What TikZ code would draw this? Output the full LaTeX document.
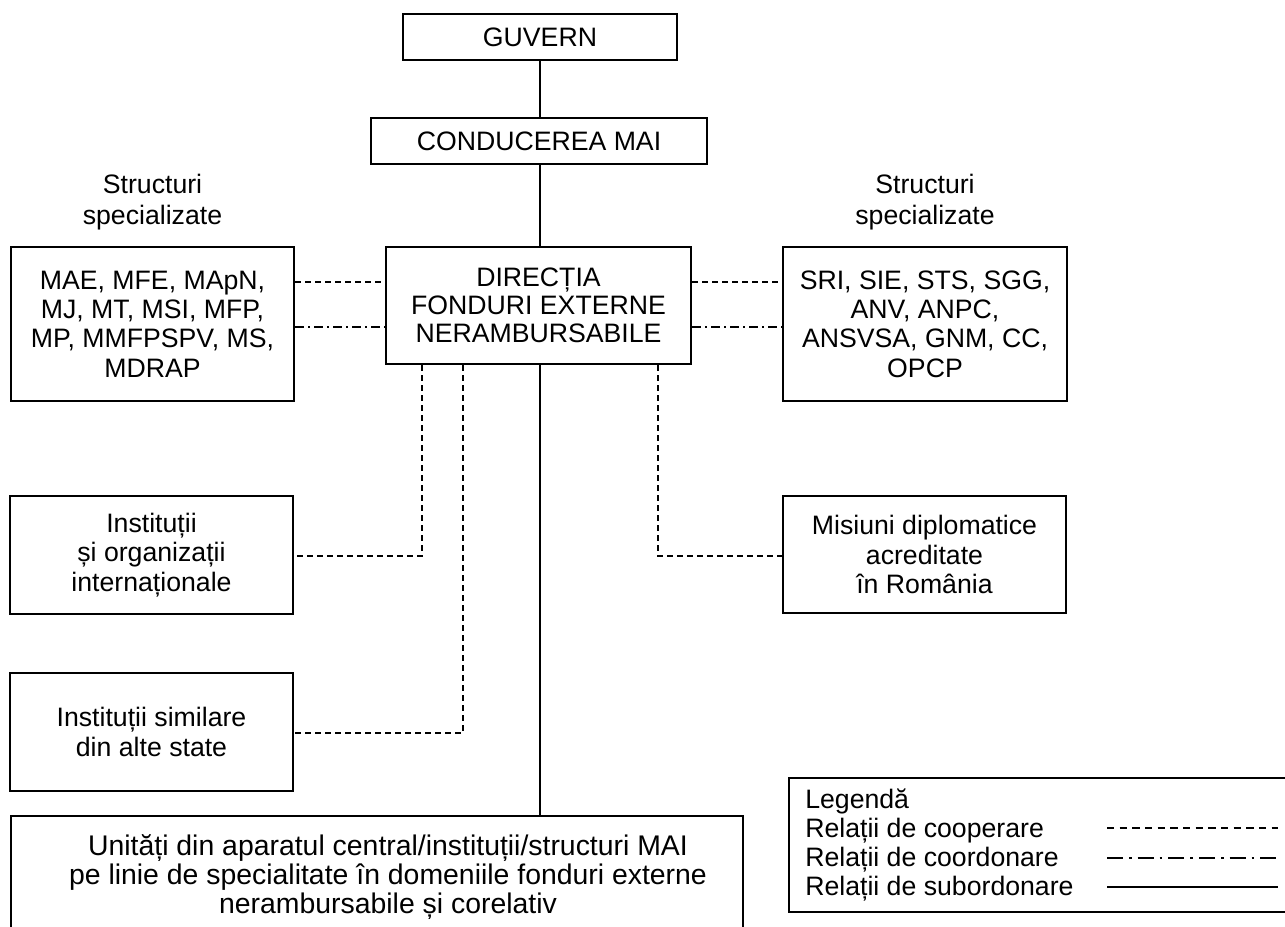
\documentclass[tikz,border=0pt]{standalone}
\usepackage{fontspec}
\setmainfont{Liberation Sans}
\newcommand\dfont{\fontsize{20}{22}\selectfont}
\tikzset{
  bx/.style 2 args={draw, line width=1.6pt, minimum width=#1*0.75pt, minimum height=#2*0.75pt, inner sep=0pt, align=center, font=\dfont},
  lbl/.style={inner sep=0pt, align=center, font=\dfont},
  headlbl/.style={inner sep=0pt, align=center, font={\fontsize{20}{23.5}\selectfont}},
  legtxt/.style={inner sep=0pt, anchor=base west, font=\dfont},
  sub/.style={line width=1.1pt},
  coop/.style={line width=1.1pt, dash pattern=on 4.5pt off 3pt},
  coordl/.style={line width=1.1pt, dash pattern=on 6.75pt off 3pt on 1.5pt off 3pt},
  legsub/.style={line width=1.6pt},
  legcoop/.style={line width=1.6pt, dash pattern=on 5.5pt off 4pt},
  legcoord/.style={line width=1.6pt, dash pattern=on 12pt off 4.5pt on 2pt off 4.5pt}
}
\begin{document}
\begin{tikzpicture}[x=0.75pt,y=-0.75pt]
\clip (0,0) rectangle (1285,926);
% boxes
\node[bx={274}{46}] (guv) at (540,37) {GUVERN};
\node[bx={336}{46}] (cond) at (539,141) {CONDUCEREA MAI};
\node[bx={305}{117}, font={\fontsize{20}{21}\selectfont}] (dir) at (538.5,305.5) {DIRECȚIA\\FONDURI EXTERNE\\NERAMBURSABILE};
\node[bx={283}{154}] (lbox) at (152.5,324) {MAE, MFE, MApN,\\MJ, MT, MSI, MFP,\\MP, MMFPSPV, MS,\\MDRAP};
\node[bx={284}{154}] (rbox) at (925,324) {SRI, SIE, STS, SGG,\\ANV, ANPC,\\ANSVSA, GNM, CC,\\OPCP};
\node[headlbl] (lhead) at (152.5,202) {Structuri\\specializate};
\node[headlbl] (rhead) at (925,202) {Structuri\\specializate};
\node[bx={283}{118}] (inst) at (151.5,555) {Instituții\\și organizații\\internaționale};
\node[bx={283}{118}] (sim) at (151.5,732) {Instituții similare\\din alte state};
\node[bx={283}{117}] (mis) at (924.5,554.5) {Misiuni diplomatice\\acreditate\\în România};
\node[bx={732}{120}] (units) at (377,876) {};
\node[lbl, font={\fontsize{21.3}{22}\selectfont}] (unitstext) at (388,877) {Unități din aparatul central/instituții/structuri MAI\\pe linie de specialitate în domeniile fonduri externe\\nerambursabile și corelativ};
% legend
\node[bx={511}{134}] (leg) at (1044.5,845) {};
\node[legtxt] (leg0) at (805,808) {Legendă};
\node[legtxt] (leg1) at (805,837) {Relații de cooperare};
\node[legtxt] (leg2) at (805,866) {Relații de coordonare};
\node[legtxt] (leg3) at (805,895) {Relații de subordonare};
\coordinate (l1a) at (1107,828); \coordinate (l1b) at (1278,828);
\coordinate (l2a) at (1107,858); \coordinate (l2b) at (1278,858);
\coordinate (l3a) at (1107,887); \coordinate (l3b) at (1278,887);
\draw[legcoop] (l1a) -- (l1b);
\draw[legcoord] (l2a) -- (l2b);
\draw[legsub] (l3a) -- (l3b);
% connectors
\coordinate (ax) at (540,0);
\draw[sub] (guv.south -| ax) -- (cond.north -| ax);
\draw[sub] (cond.south -| ax) -- (dir.north -| ax);
\draw[sub] (dir.south -| ax) -- (units.north -| ax);
\coordinate (y1) at (0,282);
\coordinate (y2) at (0,327);
\draw[coop] (lbox.east |- y1) -- (dir.west |- y1);
\draw[coordl] (lbox.east |- y2) -- (dir.west |- y2);
\draw[coop] (dir.east |- y1) -- (rbox.west |- y1);
\draw[coordl] (dir.east |- y2) -- (rbox.west |- y2);
\coordinate (k1) at (422,556);
\coordinate (k2) at (463,733);
\coordinate (k3) at (658,556);
\draw[coop] (k1 |- dir.south) -- (k1) -- (inst.east |- k1);
\draw[coop] (k2 |- dir.south) -- (k2) -- (sim.east |- k2);
\draw[coop] (k3 |- dir.south) -- (k3) -- (mis.west |- k3);
\end{tikzpicture}
\end{document}
